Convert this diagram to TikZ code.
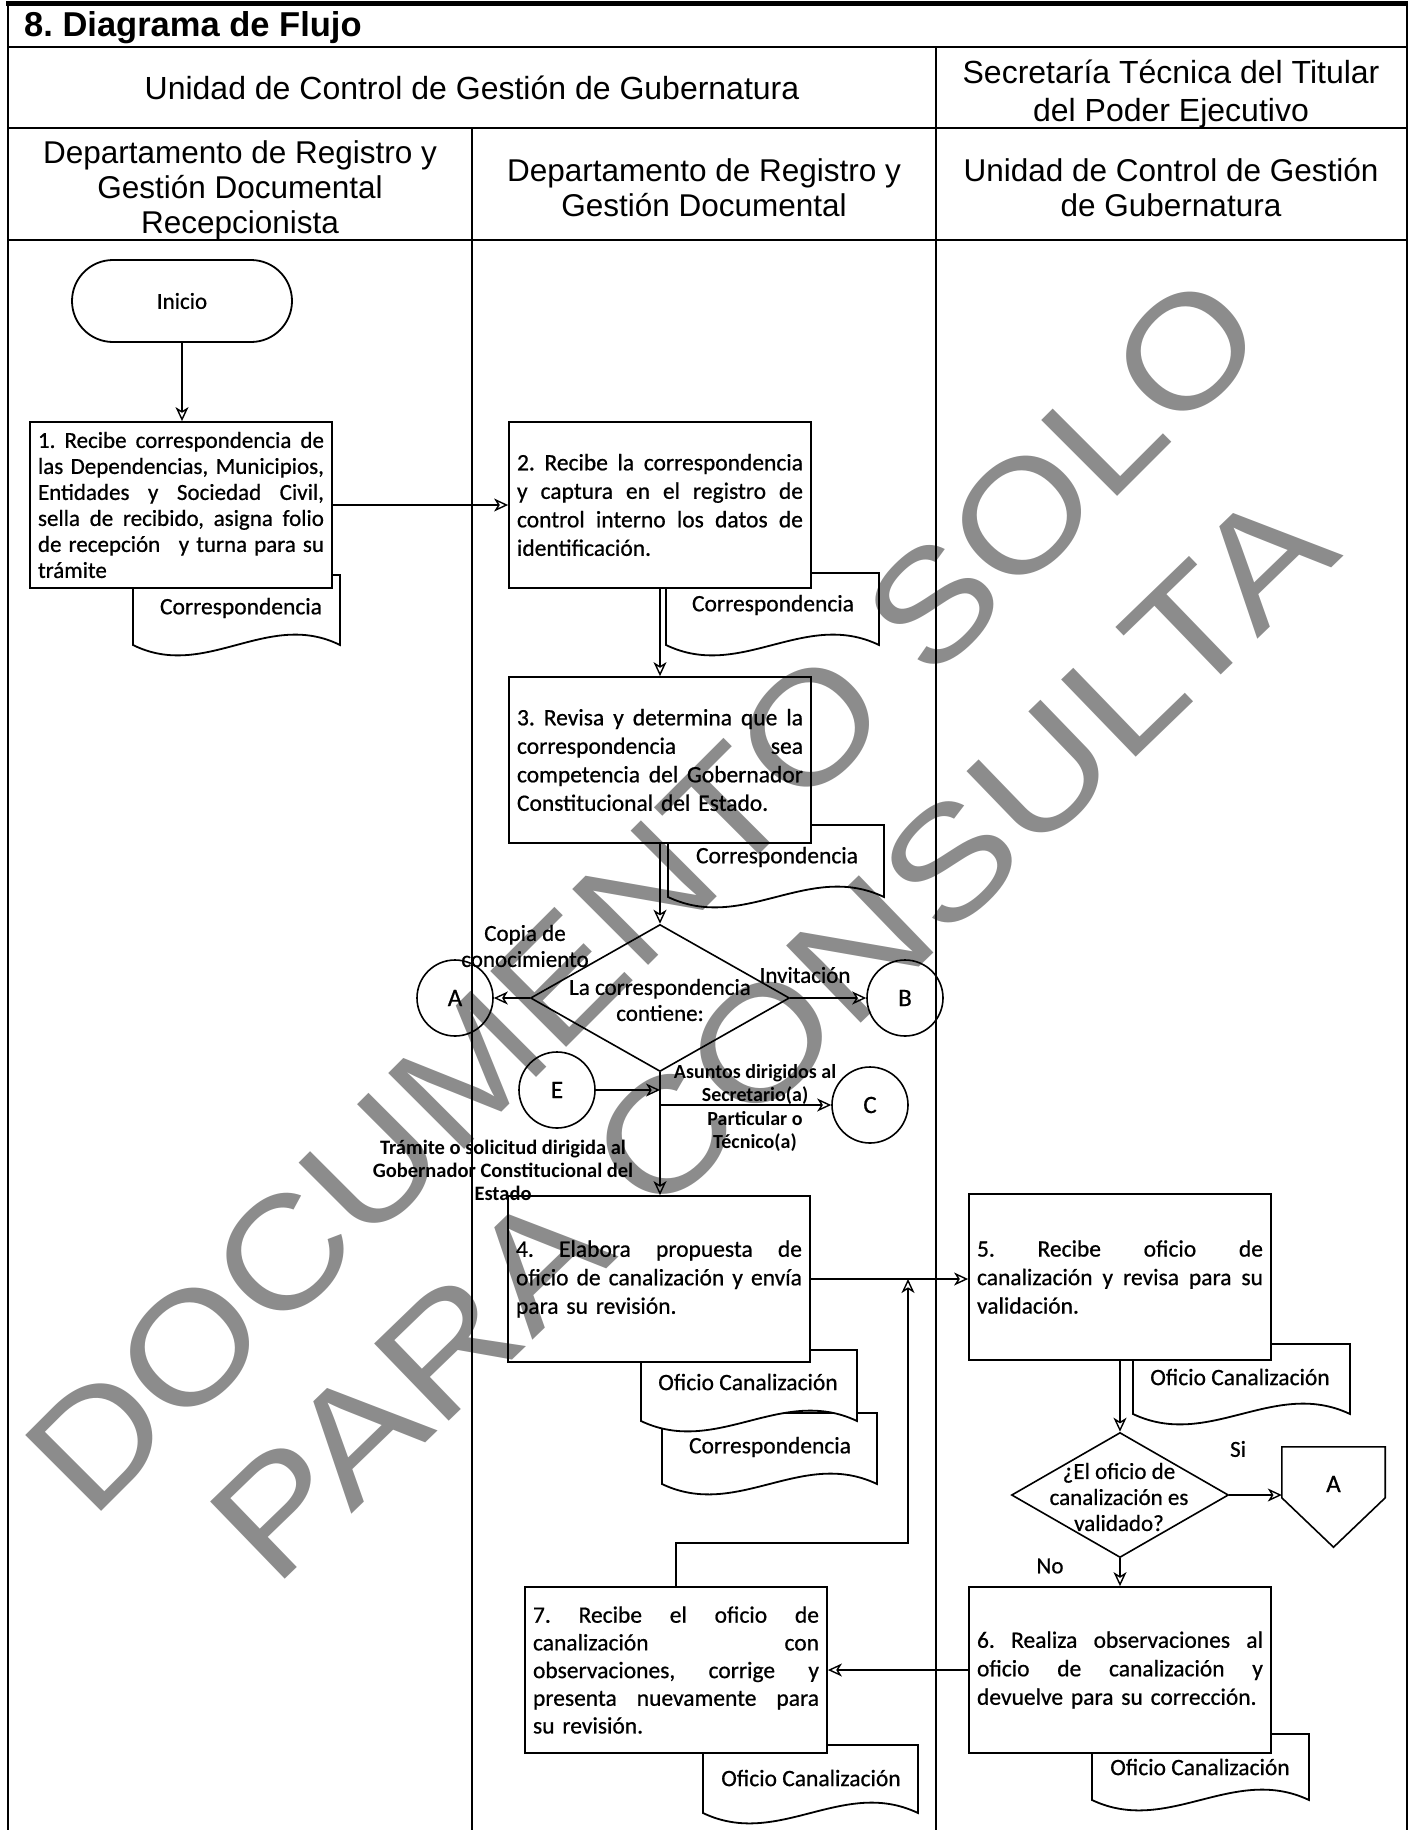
\documentclass[tikz,border=0pt]{standalone}
\usepackage{fontspec}
\setmainfont{Carlito}
\newfontfamily\carlito[FakeBold=0.7]{Carlito}
\newfontfamily\carlitob{Carlito Bold}
\newfontfamily\arialf{Liberation Sans}
\usetikzlibrary{arrows.meta,shapes.geometric,calc}
\frenchspacing
\newcommand\jl[1]{\makebox[286pt][s]{\spaceskip=0.226em plus 1fil\relax #1}}
\newcommand\bxf{\carlito\fontsize{23.5pt}{28.5pt}\selectfont}
\newcommand\bxfa{\carlito\fontsize{23pt}{26pt}\selectfont}
\newcommand\lbf{\carlito\fontsize{23pt}{26pt}\selectfont}
\newcommand\smf{\carlitob\fontsize{20pt}{23.5pt}\selectfont}
\newcommand\hdf{\arialf\fontsize{32pt}{38pt}\selectfont}
\newcommand\hdfb{\arialf\fontsize{31.5pt}{35pt}\selectfont}
\newcommand\ttlf{\arialf\bfseries\fontsize{34.5pt}{38pt}\selectfont}
\newcommand\wmf{\arialf\fontsize{156pt}{160pt}\selectfont}
\newcommand\docp[4]{(#1,#2) -- (#1,#4) .. controls +({0.35*(#3-#1)},36) and +({-0.35*(#3-#1)},-36) .. (#3,#4) -- (#3,#2) -- cycle}
\begin{document}
\begin{tikzpicture}[x=1pt,y=-1pt,
  frame/.style={line width=2pt},
  proc/.style={draw, line width=1.8pt, fill=white, minimum width=302pt, minimum height=166pt,
    text width=286pt, inner xsep=8pt, inner ysep=0pt, font=\bxf, align=left},
  docst/.style={draw, line width=1.8pt, fill=white},
  doctext/.style={font=\bxf, inner sep=0pt},
  term/.style={draw, line width=1.8pt, rounded corners=41pt, minimum width=220pt, minimum height=82pt, font=\lbf},
  conn/.style={draw, circle, line width=1.6pt, minimum size=76pt, inner sep=0pt, font=\carlito\fontsize{25pt}{28pt}\selectfont},
  dec/.style={draw, diamond, line width=1.6pt, inner sep=0pt},
  lb/.style={font=\lbf, inner sep=0pt, align=center},
  sm/.style={font=\smf, inner sep=0pt, align=center},
  arr/.style={line width=1.6pt, -{Stealth[open, length=14pt, width=13pt, inset=4pt, line width=1.4pt]}},
  wm/.style={font=\wmf, text=black, text opacity=0.45, inner sep=0pt}
]
\useasboundingbox (0,0) rectangle (1411,1830);

% frame
\draw[line width=5pt] (6,4) -- (1408,4);
\draw[frame] (8,4) -- (8,1830);
\draw[frame] (1407,4) -- (1407,1830);
\draw[frame] (8,47) -- (1407,47);
\draw[frame] (8,128) -- (1407,128);
\draw[frame] (8,240) -- (1407,240);
\draw[frame] (936,47) -- (936,1830);
\draw[frame] (472,128) -- (472,1830);

% headers
\node[font=\ttlf, anchor=base west, inner sep=0pt] (h0) at (24,37) {8. Diagrama de Flujo};
\node[font=\hdf] (h1) at (472,88) {Unidad de Control de Gestión de Gubernatura};
\node[font=\hdf, align=center] (h2) at (1171,94) {Secretaría Técnica del Titular\\del Poder Ejecutivo};
\node[font=\hdfb, align=center] (h3) at (240,190) {Departamento de Registro y\\Gestión Documental\\Recepcionista};
\node[font=\hdfb, align=center] (h4) at (704,188) {Departamento de Registro y\\Gestión Documental};
\node[font=\hdfb, align=center] (h5) at (1171,188) {Unidad de Control de Gestión\\de Gubernatura};

% documents
\draw[docst] \docp{133}{575}{340}{645};
\draw[docst] \docp{666}{573}{879}{645};
\draw[docst] \docp{668}{825}{884}{897};
\draw[docst] \docp{662}{1413}{877}{1484};
\draw[docst] \docp{641}{1350}{857}{1421};
\draw[docst] \docp{1133}{1344}{1350}{1414};
\draw[docst] \docp{1092}{1734}{1309}{1800};
\draw[docst] \docp{703}{1745}{918}{1813};
\node[doctext] (t1) at (241,608) {Correspondencia};
\node[doctext] (t2) at (773,605) {Correspondencia};
\node[doctext] (t3) at (777,857) {Correspondencia};
\node[doctext] (t4a) at (748,1382) {Oficio Canalización};
\node[doctext] (t4b) at (770,1447) {Correspondencia};
\node[doctext] (t5) at (1240,1377) {Oficio Canalización};
\node[doctext] (t6) at (1200,1767) {Oficio Canalización};
\node[doctext] (t7) at (811,1778) {Oficio Canalización};

% start
\node[term] (ini) at (182,301) {Inicio};

% process boxes
\node[proc, font=\bxfa] (b1) at (181,505) {\jl{1. Recibe correspondencia de}\\\jl{las Dependencias, Municipios,}\\\jl{Entidades y Sociedad Civil,}\\\jl{sella de recibido, asigna folio}\\\jl{de recepción\hspace{0.5em} y turna para su}\\trámite};
\node[proc] (b2) at (660,505) {\jl{2. Recibe la correspondencia}\\\jl{y captura en el registro de}\\\jl{control interno los datos de}\\identificación.};
\node[proc] (b3) at (660,760) {\jl{3. Revisa y determina que la}\\\jl{correspondencia sea}\\\jl{competencia del Gobernador}\\Constitucional del Estado.};
\node[proc] (b4) at (659,1279) {\jl{4. Elabora propuesta de}\\\jl{oficio de canalización y envía}\\para su revisión.};
\node[proc] (b5) at (1120,1277) {\jl{5. Recibe oficio de}\\\jl{canalización y revisa para su}\\validación.};
\node[proc] (b6) at (1120,1670) {\jl{6. Realiza observaciones al}\\\jl{oficio de canalización y}\\devuelve para su corrección.};
\node[proc, font=\carlito\fontsize{23.5pt}{27.7pt}\selectfont] (b7) at (676,1670) {\jl{7. Recibe el oficio de}\\\jl{canalización con}\\\jl{observaciones, corrige y}\\\jl{presenta nuevamente para}\\su revisión.};

% decisions
\node[dec, minimum width=259pt, minimum height=147pt] (d1) at (660,998) {};
\node[lb] (d1t) at (660,1000) {La correspondencia\\contiene:};
\node[dec, minimum width=217pt, minimum height=125pt] (d2) at (1120,1495) {};
\node[lb] (d2t) at (1119,1497) {¿El oficio de\\canalización es\\validado?};

% connectors (circles)
\node[conn] (cA) at (455,998) {A};
\node[conn] (cB) at (905,998) {B};
\node[conn] (cC) at (870,1105) {C};
\node[conn] (cE) at (557,1090) {E};

% off-page connector
\node[minimum width=103pt, minimum height=100pt, inner sep=0pt] (oA) at (1333.5,1497) {};
\draw[line width=1.6pt] (oA.north west) -- (oA.north east) -- ($(oA.north east)+(0,51)$) -- (oA.south) -- ($(oA.north west)+(0,51)$) -- cycle;
\node[lb, font=\carlito\fontsize{25pt}{28pt}\selectfont] (oAt) at (1333.5,1484) {A};

% labels
\node[lb] (lcopia) at (525,946) {Copia de\\conocimiento};
\node[lb] (linv) at (805,975) {Invitación};
\node[sm] (lasun) at (755,1108) {Asuntos dirigidos al\\Secretario(a)\\Particular o\\Técnico(a)};
\node[sm, font=\carlitob\fontsize{20.5pt}{23pt}\selectfont] (ltram) at (503,1170) {Trámite o solicitud dirigida al\\Gobernador Constitucional del\\Estado};
\node[lb] (lsi) at (1238,1449) {Si};
\node[lb] (lno) at (1050,1566) {No};

% helper coordinates
\coordinate (k) at (908,1543);
\coordinate (j) at (908,1279);

% arrows
\draw[arr] (ini.south) -- (ini.south |- b1.north);
\draw[arr] (b1.east) -- (b2.west);
\draw[arr] (b2.south) -- (b3.north);
\draw[arr] (b3.south) -- (d1.north);
\draw[arr] (d1.west) -- (cA.east);
\draw[arr] (d1.east) -- (cB.west);
\draw[arr] (d1.south) -- (d1.south |- b4.north);
\draw[arr] (cE.east) -- (cE.east -| d1.south);
\draw[arr] (d1.south |- cC.west) -- (cC.west);
\draw[arr] (b4.east) -- (b4.east -| b5.west);
\draw[arr] (b5.south) -- (d2.north);
\draw[arr] (d2.east) -- (d2.east -| oA.west);
\draw[arr] (d2.south) -- (b6.north);
\draw[arr] (b6.west) -- (b6.west -| b7.east);
\draw[arr] (b7.north) |- (k) -- (j);

% watermark
\begin{scope}[shift={(644,894)}]
\node[wm, rotate=45, xscale=1.115] (wm1) at (0,0) {DOCUMENTO SOLO};
\end{scope}
\begin{scope}[shift={(772,1034)}]
\node[wm, rotate=44, xscale=1.16] (wm2) at (0,0) {PARA CONSULTA};
\end{scope}
\end{tikzpicture}
\end{document}
